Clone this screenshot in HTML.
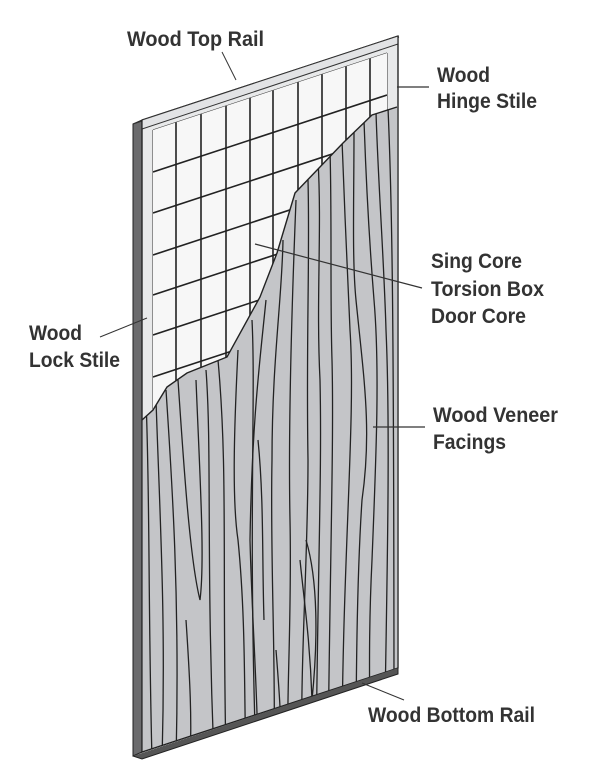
<!DOCTYPE html>
<html><head><style>
html,body{margin:0;padding:0;background:#fff;}
svg{display:block;}
text{font-family:"Liberation Sans",Arial,sans-serif;font-weight:bold;font-size:21px;fill:#333;}
</style></head><body>
<svg width="600" height="776" viewBox="0 0 600 776" xmlns="http://www.w3.org/2000/svg">
<defs>
<clipPath id="ven"><path d="M142,420 L153,410 L167,387 L187,373 L227,357 L260,297 L277,253 L295,193 L343,143 L372,115 L397,107 L397,668 L142,752 Z"/></clipPath>
<clipPath id="core"><path d="M153,130 L387,53 L387,420 L153,420 Z"/></clipPath>
</defs>
<path d="M133,124 L142,120 L142,752 L133,756 Z" fill="#6b6b6d" stroke="#222" stroke-width="1"/>
<path d="M133,124 L390,40 L399,37 L142,121 Z" fill="#d8d9db" stroke="#333" stroke-width="1"/>
<path d="M142,120 L398,36 L398,668 L142,752 Z" fill="#e8e9ea" stroke="#222" stroke-width="1.2"/>
<path d="M142,120 L398,36 L398,44 L142,129 Z" fill="#e2e3e5" stroke="#333" stroke-width="1"/>
<line x1="153" y1="130" x2="387" y2="53" stroke="#333" stroke-width="1"/>
<line x1="153" y1="130" x2="153" y2="420" stroke="#333" stroke-width="1"/>
<line x1="387" y1="53" x2="387" y2="112" stroke="#333" stroke-width="1"/>
<g clip-path="url(#core)">
<rect x="153" y="40" width="234" height="390" fill="#f7f7f7"/>
<g stroke="#222" stroke-width="1.6">
<line x1="176" y1="40" x2="176" y2="430"/><line x1="201" y1="40" x2="201" y2="430"/>
<line x1="226" y1="40" x2="226" y2="430"/><line x1="250" y1="40" x2="250" y2="430"/>
<line x1="273" y1="40" x2="273" y2="430"/><line x1="298" y1="40" x2="298" y2="430"/>
<line x1="322" y1="40" x2="322" y2="430"/><line x1="346" y1="40" x2="346" y2="430"/>
<line x1="370" y1="40" x2="370" y2="430"/>
<line x1="153" y1="172" x2="387" y2="95"/><line x1="153" y1="213" x2="387" y2="136"/>
<line x1="153" y1="255" x2="387" y2="178"/><line x1="153" y1="295" x2="387" y2="218"/>
<line x1="153" y1="335" x2="387" y2="258"/><line x1="153" y1="377" x2="387" y2="300"/>
</g>
</g>
<g clip-path="url(#ven)">
<rect x="140" y="100" width="260" height="660" fill="#c4c5c8"/>
<g fill="none" stroke="#222" stroke-width="1.3">
<path d="M146,400 C150,500 148,600 152,760"/>
<path d="M156,400 C160,520 166,620 162,760"/>
<path d="M166,390 C172,480 180,600 176,760"/>
<path d="M178,380 C184,470 190,560 200,600 C205,560 200,480 196,380"/>
<path d="M186,620 C190,680 192,720 190,760"/>
<path d="M206,370 C212,450 206,560 214,760"/>
<path d="M218,360 C228,470 222,560 226,760"/>
<path d="M238,350 C234,430 232,500 238,540 C246,620 244,700 246,760"/>
<path d="M252,320 C256,400 248,520 256,760"/>
<path d="M266,300 C260,360 252,420 250,540 C252,620 258,700 258,760"/>
<path d="M283,240 C282,300 272,360 272,460 C270,560 276,660 274,760"/>
<path d="M296,200 C292,300 288,420 290,520 C292,620 286,700 288,760"/>
<path d="M308,180 C310,260 306,340 308,460 C308,560 300,660 302,760"/>
<path d="M318,160 C322,230 316,300 320,380 C322,470 318,560 316,760"/>
<path d="M330,150 C332,220 330,300 332,360 C334,440 330,560 328,760"/>
<path d="M342,140 C344,200 348,280 350,330 C356,420 342,560 342,760"/>
<path d="M354,130 C354,200 352,260 356,300 C364,380 372,430 362,500 C358,560 356,640 356,760"/>
<path d="M364,120 C366,180 370,250 374,300 C380,370 376,460 372,560 C368,640 370,700 370,760"/>
<path d="M376,112 C378,180 384,260 386,330 C390,420 388,540 384,760"/>
<path d="M388,108 C392,200 394,300 394,760"/>
<path d="M258,440 C264,500 262,560 264,620"/>
<path d="M300,560 C304,600 310,640 312,700 C318,640 318,580 306,540"/>
<path d="M276,650 C280,700 282,730 280,760"/>
</g>
</g>
<path d="M142,420 L153,410 L167,387 L187,373 L227,357 L260,297 L277,253 L295,193 L343,143 L372,115 L397,107" fill="none" stroke="#222" stroke-width="1.4"/>
<path d="M142,120 L142,752 L398,668 L398,36" fill="none" stroke="#222" stroke-width="1.2"/>
<path d="M133,756 L142,759 L398,674 L398,668" fill="#555" stroke="#222" stroke-width="1"/>
<text x="127" y="46" textLength="137" lengthAdjust="spacingAndGlyphs">Wood Top Rail</text>
<line x1="222" y1="52" x2="236" y2="80" stroke="#333" stroke-width="1"/>
<text x="437" y="82" textLength="53" lengthAdjust="spacingAndGlyphs">Wood</text>
<text x="437" y="108" textLength="100" lengthAdjust="spacingAndGlyphs">Hinge Stile</text>
<line x1="397" y1="87" x2="429" y2="87" stroke="#333" stroke-width="1.2"/>
<text x="431" y="268" textLength="91" lengthAdjust="spacingAndGlyphs">Sing Core</text>
<text x="431" y="296" textLength="113" lengthAdjust="spacingAndGlyphs">Torsion Box</text>
<text x="431" y="323" textLength="95" lengthAdjust="spacingAndGlyphs">Door Core</text>
<line x1="255" y1="244" x2="422" y2="288" stroke="#333" stroke-width="1.2"/>
<text x="29" y="340" textLength="53" lengthAdjust="spacingAndGlyphs">Wood</text>
<text x="29" y="367" textLength="91" lengthAdjust="spacingAndGlyphs">Lock Stile</text>
<line x1="100" y1="337" x2="147" y2="318" stroke="#333" stroke-width="1"/>
<text x="433" y="422" textLength="125" lengthAdjust="spacingAndGlyphs">Wood Veneer</text>
<text x="433" y="449" textLength="73" lengthAdjust="spacingAndGlyphs">Facings</text>
<line x1="373" y1="427" x2="425" y2="427" stroke="#333" stroke-width="1.2"/>
<text x="368" y="722" textLength="167" lengthAdjust="spacingAndGlyphs">Wood Bottom Rail</text>
<line x1="362" y1="683" x2="404" y2="700" stroke="#333" stroke-width="1"/>
</svg>
</body></html>
